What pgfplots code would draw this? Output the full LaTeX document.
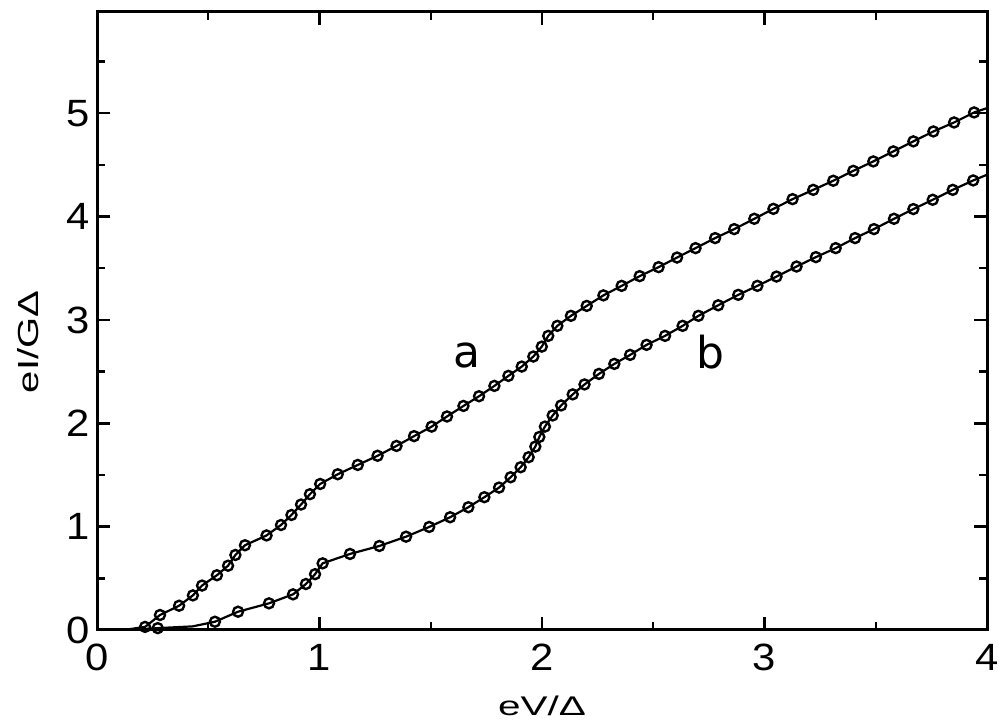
\documentclass[border=0pt]{standalone}
\usepackage{fontspec}
\setmainfont{Liberation Sans}
\newfontfamily\dejavu{DejaVu Sans}
\usepackage{graphicx}
\usepackage{pgfplots}
\usepackage{pgfplotstable}
\pgfplotsset{compat=1.18}

\pgfplotstableread{
x y
0.12 0.0
0.216 0.03
0.283 0.145
0.369 0.235
0.431 0.335
0.472 0.43
0.539 0.53
0.589 0.622
0.622 0.726
0.665 0.82
0.762 0.915
0.827 1.016
0.874 1.113
0.917 1.214
0.957 1.314
1.003 1.413
1.082 1.507
1.172 1.597
1.261 1.686
1.346 1.781
1.425 1.876
1.504 1.968
1.573 2.066
1.647 2.168
1.717 2.262
1.786 2.362
1.849 2.459
1.909 2.549
1.961 2.646
1.999 2.742
2.028 2.846
2.069 2.943
2.130 3.040
2.201 3.136
2.276 3.238
2.358 3.330
2.439 3.424
2.524 3.511
2.607 3.604
2.690 3.695
2.778 3.792
2.864 3.879
2.954 3.979
3.040 4.075
3.126 4.169
3.219 4.259
3.309 4.347
3.399 4.443
3.489 4.534
3.579 4.631
3.669 4.728
3.759 4.824
3.852 4.911
3.942 5.008
4.0 5.05
}\lineA

\pgfplotstableread{
x y
0.216 0.03
0.283 0.145
0.369 0.235
0.431 0.335
0.472 0.43
0.539 0.53
0.589 0.622
0.622 0.726
0.665 0.82
0.762 0.915
0.827 1.016
0.874 1.113
0.917 1.214
0.957 1.314
1.003 1.413
1.082 1.507
1.172 1.597
1.261 1.686
1.346 1.781
1.425 1.876
1.504 1.968
1.573 2.066
1.647 2.168
1.717 2.262
1.786 2.362
1.849 2.459
1.909 2.549
1.961 2.646
1.999 2.742
2.028 2.846
2.069 2.943
2.130 3.040
2.201 3.136
2.276 3.238
2.358 3.330
2.439 3.424
2.524 3.511
2.607 3.604
2.690 3.695
2.778 3.792
2.864 3.879
2.954 3.979
3.040 4.075
3.126 4.169
3.219 4.259
3.309 4.347
3.399 4.443
3.489 4.534
3.579 4.631
3.669 4.728
3.759 4.824
3.852 4.911
3.942 5.008
}\marksA

\pgfplotstableread{
x y
0.15 0.0
0.273 0.018
0.43 0.035
0.530 0.08
0.634 0.177
0.773 0.258
0.881 0.345
0.939 0.445
0.980 0.54
1.014 0.645
1.137 0.736
1.269 0.813
1.389 0.903
1.493 0.997
1.587 1.091
1.669 1.188
1.741 1.285
1.807 1.378
1.859 1.478
1.904 1.575
1.940 1.672
1.970 1.775
1.988 1.868
2.013 1.968
2.048 2.076
2.086 2.173
2.138 2.280
2.191 2.376
2.256 2.478
2.325 2.575
2.396 2.662
2.470 2.759
2.553 2.846
2.632 2.943
2.703 3.040
2.792 3.142
2.882 3.243
2.968 3.330
3.054 3.420
3.144 3.517
3.231 3.608
3.320 3.695
3.407 3.792
3.492 3.879
3.582 3.979
3.669 4.073
3.756 4.163
3.846 4.259
3.938 4.350
4.0 4.405
}\lineB

\pgfplotstableread{
x y
0.273 0.018
0.530 0.08
0.634 0.177
0.773 0.258
0.881 0.345
0.939 0.445
0.980 0.54
1.014 0.645
1.137 0.736
1.269 0.813
1.389 0.903
1.493 0.997
1.587 1.091
1.669 1.188
1.741 1.285
1.807 1.378
1.859 1.478
1.904 1.575
1.940 1.672
1.970 1.775
1.988 1.868
2.013 1.968
2.048 2.076
2.086 2.173
2.138 2.280
2.191 2.376
2.256 2.478
2.325 2.575
2.396 2.662
2.470 2.759
2.553 2.846
2.632 2.943
2.703 3.040
2.792 3.142
2.882 3.243
2.968 3.330
3.054 3.420
3.144 3.517
3.231 3.608
3.320 3.695
3.407 3.792
3.492 3.879
3.582 3.979
3.669 4.073
3.756 4.163
3.846 4.259
3.938 4.350
}\marksB

\begin{document}
\begin{tikzpicture}
\begin{axis}[
  scale only axis, width=445pt, height=309pt,
  xmin=0, xmax=4, ymin=0, ymax=5.98,
  xtick={0,1,2,3,4}, ytick={0,1,2,3,4,5},
  minor xtick={0.5,1.5,2.5,3.5},
  minor ytick={0.5,1.5,2.5,3.5,4.5,5.5},
  tick align=inside,
  major tick length=6.5pt, minor tick length=3.8pt,
  axis line style={line width=1.5pt},
  every tick/.style={black, line width=1.2pt},
  /pgf/number format/assume math mode=true,
  ticklabel style={font=\fontsize{19}{22}\selectfont},
  xticklabel={\scalebox{1.1}[1]{\pgfmathprintnumber{\tick}}},
  yticklabel={\scalebox{1.1}[1]{\pgfmathprintnumber{\tick}}},
  xticklabel style={yshift=-3.5pt},
  yticklabel style={xshift=0pt},
  xlabel={\scalebox{1.5}[1]{eV/Δ}},
  ylabel={\scalebox{1.38}[1]{eI/GΔ}},
  xlabel style={font=\fontsize{13.5}{15}\selectfont, at={(axis description cs:0.5,-0.123)}, anchor=center},
  ylabel style={font=\fontsize{14.5}{17}\selectfont, at={(axis description cs:-0.0775,0.466)}, anchor=center},
]
\addplot[black, line width=1.1pt, no marks] table {\lineA};
\addplot[black, line width=1.2pt, only marks, mark=o, mark size=2.5pt] table {\marksA};
\addplot[black, line width=1.1pt, no marks] table {\lineB};
\addplot[black, line width=1.2pt, only marks, mark=o, mark size=2.5pt] table {\marksB};
\node at (axis cs:1.663,2.66) {\dejavu\fontsize{22}{26}\selectfont a};
\node at (axis cs:2.755,2.69) {\dejavu\fontsize{22}{26}\selectfont b};
\end{axis}
\pgfresetboundingbox
\path ([shift={(-48.5pt,-48.5pt)}]current axis.south west) rectangle ([shift={(6.5pt,6pt)}]current axis.north east);
\end{tikzpicture}
\end{document}
